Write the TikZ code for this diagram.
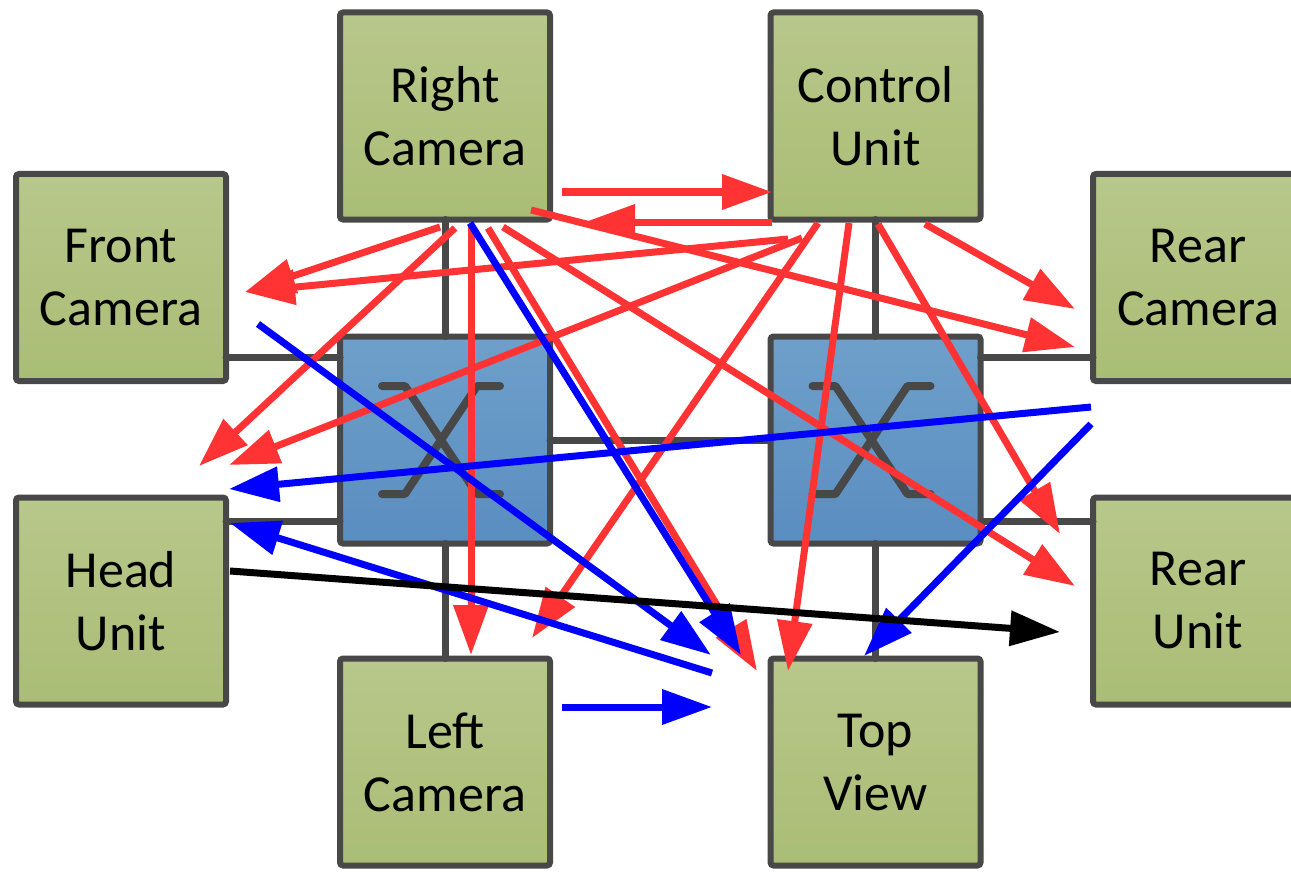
\documentclass[tikz,border=0pt]{standalone}
\usepackage{fontspec}
\setmainfont{Carlito}
\usetikzlibrary{arrows.meta}
\definecolor{gline}{HTML}{484848}
\definecolor{gtop}{HTML}{B8C78B}
\definecolor{gbot}{HTML}{AABD75}
\definecolor{btop}{HTML}{6FA0CB}
\definecolor{bbot}{HTML}{5A8DC0}
\definecolor{ared}{HTML}{FF3333}
\definecolor{ablue}{HTML}{0000FF}
\begin{document}
\begin{tikzpicture}[x=1pt,y=-1pt,
  box/.style={draw=gline, line width=6pt, rounded corners=3pt, minimum width=210pt,
    minimum height=207pt, inner sep=0pt, outer sep=0pt, top color=gtop, bottom color=gbot,
    align=center, font=\fontsize{52}{63}\selectfont},
  swbox/.style={box, top color=btop, bottom color=bbot},
  netlink/.style={draw=gline, line width=7pt, line cap=round},
  icon/.style={draw=gline, line width=8pt, line cap=round, line join=round},
  arr/.style={line width=7pt, -{Triangle[length=50pt,width=34pt]}},
  redarr/.style={arr, color=ared},
  bluearr/.style={arr, color=ablue},
  blackarr/.style={arr, color=black}]
\useasboundingbox (0,0) rectangle (1291,872);
\clip (0,0) rectangle (1291,872);

% boxes
\node[box] (rc) at (445,116) {Right\\Camera};
\node[box] (cu) at (875.5,116) {Control\\Unit};
\node[box] (fc) at (121,277.5) {Front\\Camera};
\node[box] (rcam) at (1198,277.5) {Rear\\Camera};
\node[box] (hu) at (121,601) {Head\\Unit};
\node[box] (ru) at (1198,601) {Rear\\Unit};
\node[box] (lc) at (445,762) {Left\\Camera};
\node[box] (tv) at (875.5,762) {Top\\View};
\node[swbox] (s1) at (445,440) {};
\node[swbox] (s2) at (875.5,440) {};

% switch icons
\foreach \sw in {s1,s2} {
  \draw[icon] ([shift={(-63,-54)}]\sw.center) -- ([shift={(-40,-54)}]\sw.center)
     -- ([shift={(32,54)}]\sw.center) -- ([shift={(55,54)}]\sw.center);
  \draw[icon] ([shift={(55,-54)}]\sw.center) -- ([shift={(32,-54)}]\sw.center)
     -- ([shift={(-40,54)}]\sw.center) -- ([shift={(-63,54)}]\sw.center);
}

% network links
\draw[netlink] (rc.south) -- (s1.north);
\draw[netlink] (lc.north) -- (s1.south);
\draw[netlink] (cu.south) -- (s2.north);
\draw[netlink] (tv.north) -- (s2.south);
\draw[netlink] (s1.east) -- (s2.west);
\draw[netlink] ([yshift=24pt]fc.south east) -- ([yshift=24pt]fc.south east -| s1.west);
\draw[netlink] ([yshift=-24pt]hu.north east) -- ([yshift=-24pt]hu.north east -| s1.west);
\draw[netlink] ([yshift=24pt]rcam.south west) -- ([yshift=24pt]rcam.south west -| s2.east);
\draw[netlink] ([yshift=-24pt]ru.north west) -- ([yshift=-24pt]ru.north west -| s2.east);

% arrow end points
\coordinate (r1a) at (562,192);  \coordinate (r1b) at (772,192);
\coordinate (r2a) at (772,222);  \coordinate (r2b) at (585,222);
\coordinate (r3a) at (531,210);  \coordinate (r3b) at (1075,347);
\coordinate (r4a) at (440,227);  \coordinate (r4b) at (245,292);
\coordinate (r5a) at (788,239);  \coordinate (r5b) at (245,292);
\coordinate (r6a) at (455,228);  \coordinate (r6b) at (199,466);
\coordinate (r7a) at (802,238);  \coordinate (r7b) at (229,465);
\coordinate (r8a) at (471,226);  \coordinate (r8b) at (471,655);
\coordinate (r9a) at (818,223);  \coordinate (r9b) at (532,638);
\coordinate (r10a) at (488,228); \coordinate (r10b) at (757,671);
\coordinate (r11a) at (503,227); \coordinate (r11b) at (1075,586);
\coordinate (r12a) at (849,223); \coordinate (r12b) at (788,671);
\coordinate (r13a) at (878,224); \coordinate (r13b) at (1060,534);
\coordinate (r14a) at (925,224); \coordinate (r14b) at (1075,309);
\coordinate (b1a) at (258,324);  \coordinate (b1b) at (711,655);
\coordinate (b2a) at (470,223);  \coordinate (b2b) at (741,655);
\coordinate (b3a) at (1091,407); \coordinate (b3b) at (229,489);
\coordinate (b4a) at (1091,424); \coordinate (b4b) at (864,656);
\coordinate (b5a) at (712,673);  \coordinate (b5b) at (230,523);
\coordinate (b6a) at (562,707);  \coordinate (b6b) at (712,707);
\coordinate (k1a) at (230,571);  \coordinate (k1b) at (1060,632);

% red arrows
\foreach \i in {1,...,14} { \draw[redarr] (r\i a) -- (r\i b); }
% blue arrows
\foreach \i in {1,...,6} { \draw[bluearr] (b\i a) -- (b\i b); }
% black arrow
\draw[blackarr] (k1a) -- (k1b);
\end{tikzpicture}
\end{document}
